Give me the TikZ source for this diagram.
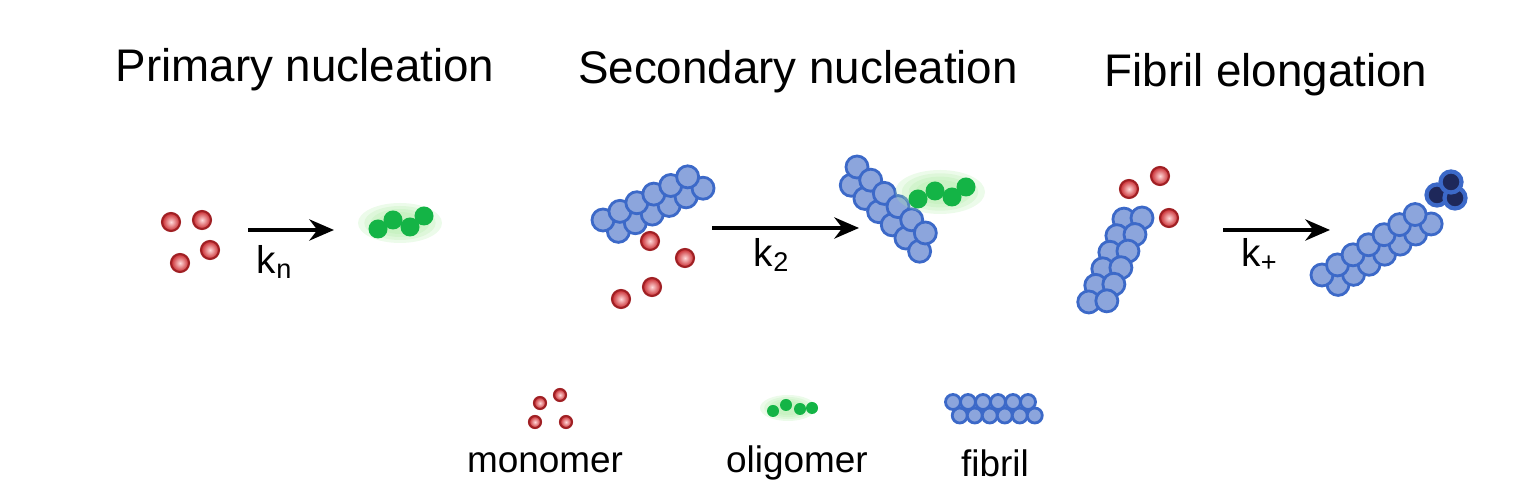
\documentclass[tikz,border=0pt]{standalone}
\usepackage{fontspec}
\setmainfont{Liberation Sans}
\usetikzlibrary{arrows.meta}
\definecolor{fibblue}{RGB}{140, 165, 220}
\definecolor{fibedge}{RGB}{60, 105, 200}
\definecolor{capblue}{RGB}{30, 40, 90}
\definecolor{monored}{RGB}{200, 40, 45}
\definecolor{oliggreen}{RGB}{20, 180, 70}
\definecolor{glowgreen}{RGB}{170, 235, 160}
\tikzset{
  bead/.style={circle, draw=fibedge, fill=fibblue, line width=0.8pt, inner sep=0pt, minimum size=#1},
  bead/.default=0.22cm,
  capbead/.style={circle, draw=fibedge, fill=capblue, line width=1.2pt, inner sep=0pt, minimum size=0.21cm},
  mono/.style={circle, draw=monored!80!black, line width=0.6pt, inner color=red!15, outer color=monored, inner sep=0pt, minimum size=#1},
  mono/.default=0.18cm,
  olig/.style={circle, fill=oliggreen, inner sep=0pt, minimum size=#1},
  olig/.default=0.19cm,
  title/.style={font=\fontsize{13}{15}\selectfont},
  rate/.style={font=\fontsize{11}{13}\selectfont},
  legend/.style={font=\fontsize{10.5}{12}\selectfont},
  react/.style={-{Stealth[length=7pt,width=6pt]}, line width=1.2pt}
}
% fibril: x, y, angle, beads per row, spacing, bead size
\newcommand{\fibril}[6]{%
  \foreach \i in {1,...,#4} {
    \node[bead=#6] at ({#1+(\i-1)*#5*cos(#3)-0.9*#5*sin(#3)+0.45*#5*cos(#3)}, {#2+(\i-1)*#5*sin(#3)+0.9*#5*cos(#3)+0.45*#5*sin(#3)}) {};
  }
  \foreach \i in {1,...,#4} {
    \node[bead=#6] at ({#1+(\i-1)*#5*cos(#3)}, {#2+(\i-1)*#5*sin(#3)}) {};
  }
}
\newcommand{\glow}[4]{% x, y, half width, half height
  \foreach \f in {1.0,0.85,0.7,0.55} {
    \fill[glowgreen, opacity=0.22] (#1,#2) ellipse ({#3*\f} and {#4*\f});
  }
}
\begin{document}
\begin{tikzpicture}[x=0.01cm, y=-0.01cm]
\useasboundingbox (0,0) rectangle (1530,483);

% Titles
\node[title] (tprim) at (305,70) {Primary nucleation};
\node[title] (tsec) at (798,72) {Secondary nucleation};
\node[title] (telong) at (1266,75) {Fibril elongation};

% Primary nucleation
\node[mono] (p1) at (171,222) {};
\node[mono] (p2) at (202,220) {};
\node[mono] (p3) at (210,250) {};
\node[mono] (p4) at (180,263) {};
\coordinate (pa) at (248,230);
\coordinate (pb) at (334,230);
\draw[react] (pa) -- (pb);
\node[rate] (kn) at (275,262) {k\textsubscript{n}};
\glow{400}{223}{42}{20}
\foreach \x/\y in {378/229,393/220,410/227,424/216} {
  \node[olig] at (\x,\y) {};
}

% Secondary nucleation
\fibril{603}{220}{-27}{6}{19}{0.22cm}
\node[mono] (s1) at (650,241) {};
\node[mono] (s2) at (685,258) {};
\node[mono] (s3) at (652,287) {};
\node[mono] (s4) at (621,299) {};
\coordinate (sa) at (712,228);
\coordinate (sb) at (859,228);
\draw[react] (sa) -- (sb);
\node[rate] (k2) at (772,255) {k\textsubscript{2}};
\fibril{857}{167}{44}{6}{19}{0.22cm}
\glow{940}{192}{45}{22}
\foreach \x/\y in {918/199,935/191,952/197,966/187} {
  \node[olig] at (\x,\y) {};
}

% Fibril elongation
\fibril{1142}{218}{113}{6}{18}{0.22cm}
\node[mono] (e1) at (1129,189) {};
\node[mono] (e2) at (1160,176) {};
\node[mono] (e3) at (1169,218) {};
\coordinate (ea) at (1223,230);
\coordinate (eb) at (1330,230);
\draw[react] (ea) -- (eb);
\node[rate] (kp) at (1260,255) {k\textsubscript{+}};
\fibril{1322}{275}{-33}{7}{18.5}{0.22cm}
\node[capbead] (c1) at (1437,195) {};
\node[capbead] (c2) at (1455,198) {};
\node[capbead] (c3) at (1451,182) {};

% Legend
\node[mono=0.12cm] (lm1) at (540,403) {};
\node[mono=0.12cm] (lm2) at (560,395) {};
\node[mono=0.12cm] (lm3) at (535,422) {};
\node[mono=0.12cm] (lm4) at (566,422) {};
\glow{788}{408}{28}{13}
\foreach \x/\y in {773/411,786/405,800/409,812/408} {
  \node[olig=0.12cm] at (\x,\y) {};
}
\fibril{953}{402}{0}{6}{15}{0.15cm}
\node[legend] (lmono) at (545,463) {monomer};
\node[legend] (lolig) at (797,463) {oligomer};
\node[legend] (lfib) at (995,463) {fibril};
\end{tikzpicture}
\end{document}
